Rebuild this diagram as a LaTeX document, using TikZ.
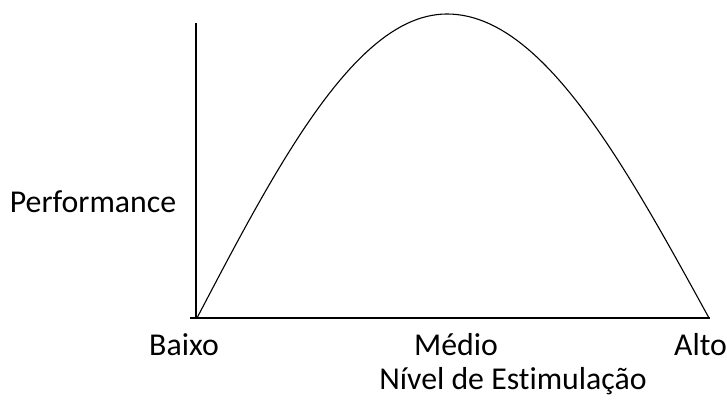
\documentclass[tikz,border=0pt]{standalone}
\usepackage{fontspec}
\setmainfont[Ligatures=NoCommon]{Carlito}
\usepackage{tikz}
\usetikzlibrary{positioning,calc}
\tikzset{eixo/.style={line width=1.3pt},
         rotulo/.style={anchor=base,inner sep=0pt,font=\fontsize{31.8}{36}\selectfont}}

\begin{document}
\begin{tikzpicture}[x=1pt,y=1pt]
    \useasboundingbox (0,0) rectangle (727,403);
    \coordinate (o) at (196,85); \coordinate (ytop) at (196,380); \coordinate (xend) at (710,85);
	  \draw[eixo] (o) -- (ytop) ;
    \draw[eixo] ($(o)+(-6,0)$) -- (xend) ;
		\draw[line width=1.1pt] plot[domain=0:1,samples=50] ({197+250*\x},{85+304*sin(90*\x)})
		  -- plot[domain=1:0,samples=50] ({709-262*\x},{85+304*sin(90*\x)});
		\node[rotulo] (perf) at (93,190) {Performance};
		\node[rotulo] (baixo) at (184,47.5) {Baixo};
		\node[rotulo] (medio) at (456,47.5) {Médio};
		\node[rotulo] (alto) at (700.5,47.5) {Alto};
		\node[rotulo] (nivel) at (513,13) {Nível de Estimulação};
\end{tikzpicture}
\end{document}
